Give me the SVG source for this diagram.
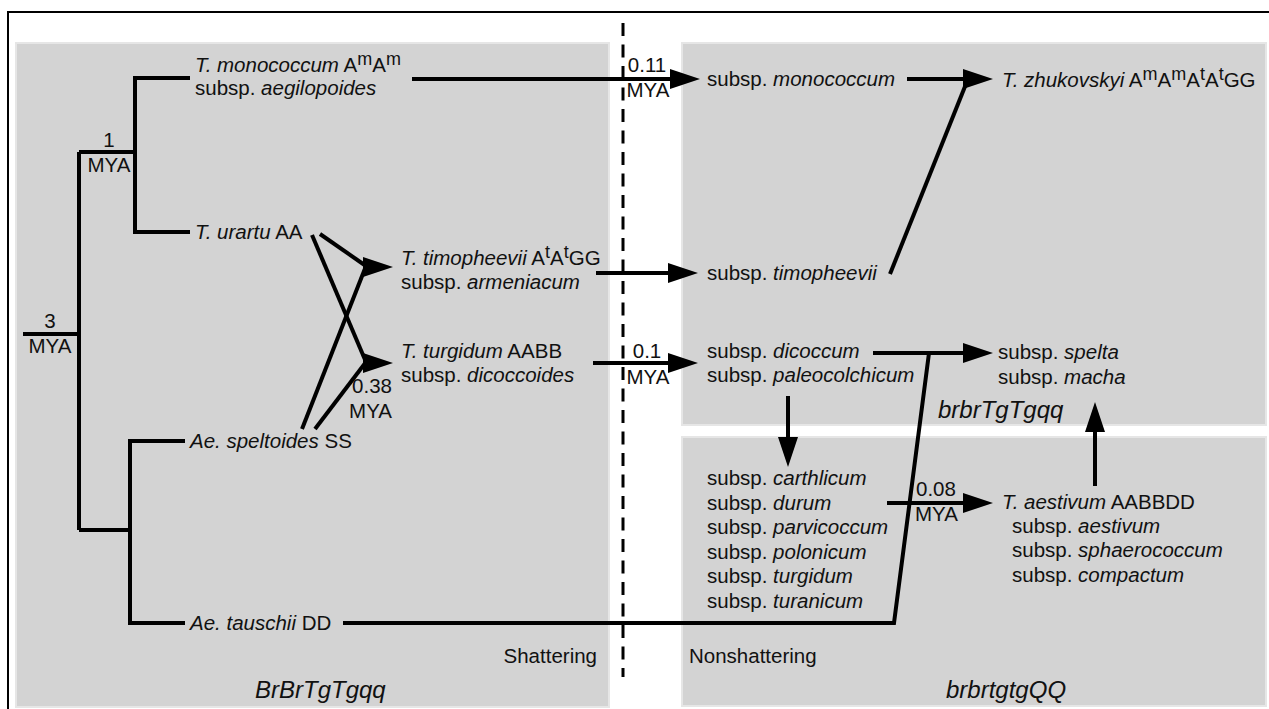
<svg xmlns="http://www.w3.org/2000/svg" xmlns:xlink="http://www.w3.org/1999/xlink" width="1269" height="709" viewBox="0 0 1269 709">
<style>
text{font-family:"Liberation Sans",Arial,sans-serif;font-size:20.5px;fill:#111}
.i{font-style:italic}
.g{font-size:24px;font-style:italic}
.c{text-anchor:middle}
.e{text-anchor:end}
.sup{font-size:18px}
.panel{fill:#d3d3d3;stroke:#e6e6e6;stroke-width:2}
.ln{fill:none;stroke:#000;stroke-width:4}
</style>
<defs>
<path id="ah" d="M-30,-10 L0,0 L-30,10 Z" fill="#000"/>
</defs>
<rect width="1269" height="709" fill="#fff"/>
<g id="panels">
<rect class="panel" x="16" y="43" width="593" height="664"/>
<rect class="panel" x="682" y="43" width="584" height="382"/>
<rect class="panel" x="682" y="437" width="584" height="269"/>
</g>
<path d="M8,709 V12 H1269" fill="none" stroke="#000" stroke-width="2"/>
<line x1="623" y1="23" x2="623" y2="677" stroke="#000" stroke-width="3" stroke-dasharray="13 8.5"/>
<g id="connectors">
<path class="ln" d="M23,334 H79"/>
<path class="ln" d="M79,152 V530"/>
<path class="ln" d="M79,152 H135"/>
<path class="ln" d="M190,78 H135 V232 H190"/>
<path class="ln" d="M79,530 H130"/>
<path class="ln" d="M185,441 H130 V623 H185"/>
<path class="ln" d="M412,79 H672"/>
<use xlink:href="#ah" x="700" y="79"/>
<path class="ln" d="M596,273 H670"/>
<use xlink:href="#ah" x="698" y="273"/>
<path class="ln" d="M593,363 H670"/>
<use xlink:href="#ah" x="698" y="363"/>
<path class="ln" d="M320,234 L366,266"/>
<path class="ln" d="M302,429 L366,266"/>
<use xlink:href="#ah" x="393" y="267"/>
<path class="ln" d="M312,235 L366,362"/>
<path class="ln" d="M315,429 L366,362"/>
<use xlink:href="#ah" x="393" y="363"/>
<path class="ln" d="M907,79 H966"/>
<path class="ln" d="M890,274 L966,84"/>
<use xlink:href="#ah" x="993" y="79"/>
<path class="ln" d="M873,353 H966"/>
<use xlink:href="#ah" x="993" y="353"/>
<path class="ln" d="M343,623 H894 L929,353"/>
<path class="ln" d="M788,396 V440"/>
<use xlink:href="#ah" transform="translate(788,467) rotate(90)"/>
<path class="ln" d="M887,503 H966"/>
<use xlink:href="#ah" x="993" y="503"/>
<path class="ln" d="M1095,486 V430"/>
<use xlink:href="#ah" transform="translate(1095,402) rotate(-90)"/>
</g>
<g id="ages">
<text class="c" x="50" y="328">3</text>
<text class="c" x="50" y="353">MYA</text>
<text class="c" x="109" y="147">1</text>
<text class="c" x="109" y="172">MYA</text>
<text class="c" x="647" y="72">0.11</text>
<text class="c" x="648" y="97">MYA</text>
<text class="c" x="647" y="358">0.1</text>
<text class="c" x="648" y="384">MYA</text>
<text class="e" x="392" y="393">0.38</text>
<text class="e" x="392" y="418">MYA</text>
<text x="916" y="496">0.08</text>
<text x="915" y="521">MYA</text>
</g>
<g id="n-monococcum">
<text x="195" y="72"><tspan class="i">T. monococcum</tspan> A<tspan class="sup" dy="-7">m</tspan><tspan dy="7">A</tspan><tspan class="sup" dy="-7">m</tspan></text>
<text x="195" y="95">subsp. <tspan class="i">aegilopoides</tspan></text>
</g>
<g id="n-urartu"><text x="195" y="239"><tspan class="i">T. urartu</tspan> AA</text></g>
<g id="n-timopheevii">
<text x="401" y="265"><tspan class="i">T. timopheevii</tspan> A<tspan class="sup" dy="-7">t</tspan><tspan dy="7">A</tspan><tspan class="sup" dy="-7">t</tspan><tspan dy="7">GG</tspan></text>
<text x="401" y="289">subsp. <tspan class="i">armeniacum</tspan></text>
</g>
<g id="n-turgidum">
<text x="401" y="358"><tspan class="i">T. turgidum</tspan> AABB</text>
<text x="401" y="382">subsp. <tspan class="i">dicoccoides</tspan></text>
</g>
<g id="n-speltoides"><text x="190" y="448"><tspan class="i">Ae. speltoides</tspan> SS</text></g>
<g id="n-tauschii"><text x="190" y="630"><tspan class="i">Ae. tauschii</tspan> DD</text></g>
<g id="n-ssp-monococcum"><text x="707" y="86">subsp. <tspan class="i">monococcum</tspan></text></g>
<g id="n-zhukovskyi">
<text x="1002" y="87"><tspan class="i">T. zhukovskyi</tspan> A<tspan class="sup" dy="-7">m</tspan><tspan dy="7">A</tspan><tspan class="sup" dy="-7">m</tspan><tspan dy="7">A</tspan><tspan class="sup" dy="-7">t</tspan><tspan dy="7">A</tspan><tspan class="sup" dy="-7">t</tspan><tspan dy="7">GG</tspan></text>
</g>
<g id="n-ssp-timopheevii"><text x="707" y="280">subsp. <tspan class="i">timopheevii</tspan></text></g>
<g id="n-dicoccum">
<text x="707" y="358">subsp. <tspan class="i">dicoccum</tspan></text>
<text x="707" y="382">subsp. <tspan class="i">paleocolchicum</tspan></text>
</g>
<g id="n-spelta">
<text x="998" y="359">subsp. <tspan class="i">spelta</tspan></text>
<text x="998" y="384">subsp. <tspan class="i">macha</tspan></text>
</g>
<g id="n-durum">
<text x="707" y="485">subsp. <tspan class="i">carthlicum</tspan></text>
<text x="707" y="509.5">subsp. <tspan class="i">durum</tspan></text>
<text x="707" y="534">subsp. <tspan class="i">parvicoccum</tspan></text>
<text x="707" y="558.5">subsp. <tspan class="i">polonicum</tspan></text>
<text x="707" y="583">subsp. <tspan class="i">turgidum</tspan></text>
<text x="707" y="607.5">subsp. <tspan class="i">turanicum</tspan></text>
</g>
<g id="n-aestivum">
<text x="1002" y="509"><tspan class="i">T. aestivum</tspan> AABBDD</text>
<text x="1012" y="533">subsp. <tspan class="i">aestivum</tspan></text>
<text x="1012" y="557">subsp. <tspan class="i">sphaerococcum</tspan></text>
<text x="1012" y="581.5">subsp. <tspan class="i">compactum</tspan></text>
</g>
<g id="labels">
<text class="g" x="938" y="418">brbrTgTgqq</text>
<text class="g" x="255" y="698">BrBrTgTgqq</text>
<text class="g" x="946" y="698">brbrtgtgQQ</text>
<text class="e" x="597" y="663">Shattering</text>
<text x="689" y="663">Nonshattering</text>
</g>
</svg>
